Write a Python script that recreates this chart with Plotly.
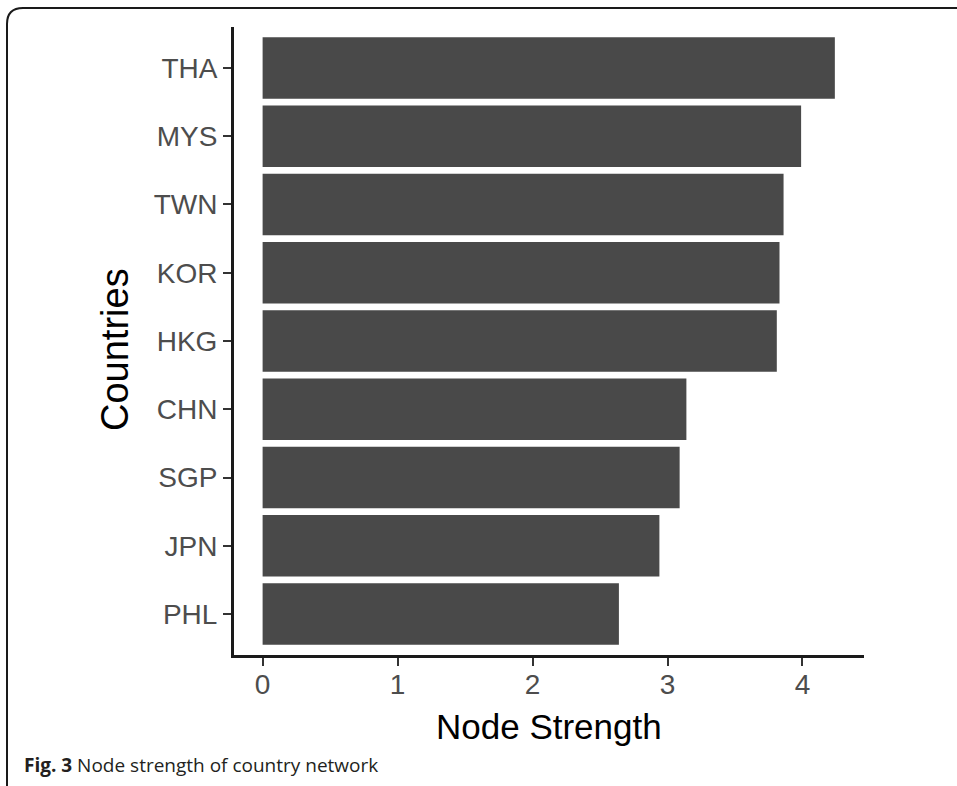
import plotly.graph_objects as go

# Node strength per country (top to bottom as displayed)
countries = ["THA", "MYS", "TWN", "KOR", "HKG", "CHN", "SGP", "JPN", "PHL"]
strength = [4.24, 3.99, 3.86, 3.83, 3.81, 3.14, 3.09, 2.94, 2.64]
x_ticks = [0, 1, 2, 3, 4]

W, H = 957, 786
ML, MR, MT, MB = 234, 93, 27, 131
PW, PH = W - ML - MR, H - MT - MB


def px_x(px):
    return (px - ML) / PW


def px_y(py):
    return (H - MB - py) / PH


fig = go.Figure(
    go.Bar(
        x=strength,
        y=countries,
        orientation="h",
        width=0.9,
        marker=dict(color="#494949", line=dict(width=0)),
        hoverinfo="x+y",
    )
)

FONT = "Liberation Sans, Arial, sans-serif"
axis_font = dict(family=FONT, size=28, color="#4d4d4d")

fig.update_xaxes(
    range=[-0.212, 4.456],
    tickvals=x_ticks,
    ticktext=[str(v) for v in x_ticks],
    showgrid=False,
    zeroline=False,
    showline=True,
    linecolor="#1a1a1a",
    linewidth=3,
    ticks="outside",
    ticklen=8,
    tickwidth=2,
    tickcolor="#333333",
    tickfont=axis_font,
    ticklabelstandoff=-6,
)

fig.update_yaxes(
    categoryorder="array",
    categoryarray=countries[::-1],
    range=[-0.6, len(countries) - 0.4],
    showgrid=False,
    zeroline=False,
    showline=True,
    linecolor="#1a1a1a",
    linewidth=3,
    ticks="outside",
    ticklen=8,
    tickwidth=2,
    tickcolor="#333333",
    tickfont=axis_font,
)

# Rounded frame around the figure (open on right and bottom)
x0, ytop = px_x(7), px_y(8)
xr, ybot = px_x(965), px_y(795)
rx, ry = 16 / PW, 16 / PH
frame_path = (
    f"M {x0},{ybot} L {x0},{ytop - ry} "
    f"Q {x0},{ytop} {x0 + rx},{ytop} L {xr},{ytop}"
)

fig.update_layout(
    width=W,
    height=H,
    margin=dict(l=ML, r=MR, t=MT, b=MB),
    paper_bgcolor="white",
    plot_bgcolor="white",
    showlegend=False,
    shapes=[
        dict(
            type="path",
            xref="paper",
            yref="paper",
            path=frame_path,
            line=dict(color="#1a1a1a", width=2),
            layer="above",
        )
    ],
    annotations=[
        # x-axis title
        dict(
            xref="paper", yref="paper",
            x=0.5, y=px_y(726),
            xanchor="center", yanchor="middle",
            showarrow=False,
            text="Node Strength",
            font=dict(family=FONT, size=35, color="#000000"),
        ),
        # y-axis title
        dict(
            xref="paper", yref="paper",
            x=px_x(115), y=px_y(350),
            xanchor="center", yanchor="middle",
            textangle=-90,
            showarrow=False,
            text="Countries",
            font=dict(family=FONT, size=38, color="#000000"),
        ),
        # figure caption
        dict(
            xref="paper", yref="paper",
            x=px_x(22), y=px_y(765),
            xanchor="left", yanchor="middle",
            showarrow=False,
            text="<b>Fig. 3</b> Node strength of country network",
            font=dict(family="Open Sans, Noto Sans, sans-serif", size=19, color="#231f20"),
        ),
    ],
)

fig.write_html("out.html")
